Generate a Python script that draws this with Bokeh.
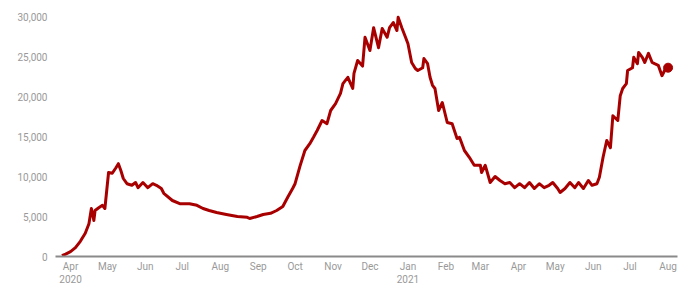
import pandas as pd
from bokeh.plotting import figure
from bokeh.models import Range1d, FixedTicker, NumeralTickFormatter
from bokeh.embed import file_html
from bokeh.resources import INLINE

dates = [
    "2020-03-25", "2020-03-28", "2020-04-01", "2020-04-05", "2020-04-09", "2020-04-13", "2020-04-16",
    "2020-04-18", "2020-04-20", "2020-04-21", "2020-04-24", "2020-04-27", "2020-04-29",
    "2020-05-02", "2020-05-05", "2020-05-08", "2020-05-10", "2020-05-12", "2020-05-14",
    "2020-05-17", "2020-05-21", "2020-05-24", "2020-05-26", "2020-05-30", "2020-06-03",
    "2020-06-07", "2020-06-10", "2020-06-14", "2020-06-16", "2020-06-23", "2020-06-29",
    "2020-07-07", "2020-07-13", "2020-07-18", "2020-07-23", "2020-07-29", "2020-08-06",
    "2020-08-15", "2020-08-23", "2020-08-25", "2020-08-31", "2020-09-05", "2020-09-11",
    "2020-09-16", "2020-09-21", "2020-09-25", "2020-09-29", "2020-10-01", "2020-10-05",
    "2020-10-09", "2020-10-13", "2020-10-16", "2020-10-19", "2020-10-23", "2020-10-27",
    "2020-10-30", "2020-11-03", "2020-11-07", "2020-11-09", "2020-11-13", "2020-11-17",
    "2020-11-18", "2020-11-21", "2020-11-25", "2020-11-27", "2020-12-01", "2020-12-04",
    "2020-12-08", "2020-12-11", "2020-12-15", "2020-12-17", "2020-12-20", "2020-12-23",
    "2020-12-24", "2020-12-27", "2020-12-30", "2021-01-01", "2021-01-04", "2021-01-07",
    "2021-01-09", "2021-01-13", "2021-01-14", "2021-01-17", "2021-01-19", "2021-01-21",
    "2021-01-23", "2021-01-26", "2021-01-29", "2021-02-02", "2021-02-06", "2021-02-10",
    "2021-02-12", "2021-02-16", "2021-02-20", "2021-02-24", "2021-03-01", "2021-03-02",
    "2021-03-05", "2021-03-09", "2021-03-13", "2021-03-17", "2021-03-21", "2021-03-25",
    "2021-03-29", "2021-04-02", "2021-04-06", "2021-04-10", "2021-04-14", "2021-04-18",
    "2021-04-22", "2021-04-26", "2021-04-29", "2021-05-03", "2021-05-05", "2021-05-09",
    "2021-05-13", "2021-05-17", "2021-05-20", "2021-05-24", "2021-05-28", "2021-05-31",
    "2021-06-04", "2021-06-06", "2021-06-09", "2021-06-12", "2021-06-15", "2021-06-17",
    "2021-06-21", "2021-06-23", "2021-06-25", "2021-06-28", "2021-06-29", "2021-07-03",
    "2021-07-04", "2021-07-07", "2021-07-08", "2021-07-11", "2021-07-13", "2021-07-16",
    "2021-07-19", "2021-07-21", "2021-07-24", "2021-07-27", "2021-07-30", "2021-08-01",
]
values = [
    100, 300, 600, 1100, 1900, 2900, 4100,
    6000, 4500, 5750, 6100, 6400, 6000,
    10500, 10400, 11100, 11600, 10750, 9750,
    9100, 8900, 9250, 8600, 9250, 8600,
    9100, 8900, 8500, 7900, 7000, 6600,
    6600, 6400, 6000, 5750, 5500, 5250,
    5000, 4900, 4750, 5000, 5250, 5400,
    5750, 6250, 7400, 8500, 9100, 11300,
    13250, 14100, 14900, 15750, 17000, 16600,
    18250, 19100, 20400, 21600, 22400, 21000,
    22900, 24500, 23800, 27400, 25750, 28600,
    26100, 28500, 27400, 28600, 29250, 28250,
    29900, 28600, 27400, 26600, 24250, 23500,
    23250, 23600, 24750, 24100, 22400, 21400,
    21000, 18250, 19250, 16750, 16600, 14750,
    14900, 13250, 12400, 11400, 11400, 10500,
    11400, 9250, 10000, 9500, 9100, 9250,
    8600, 9100, 8600, 9250, 8500, 9100,
    8600, 8900, 9250, 8500, 8000, 8500,
    9250, 8600, 9250, 8500, 9500, 8900,
    9100, 9900, 12400, 14500, 13600, 17600,
    17000, 20100, 21000, 21600, 23250, 23600,
    24900, 24100, 25500, 24900, 24250, 25400,
    24250, 24100, 23900, 22600, 23500, 23600,
]

tick_dates = ["2020-04-01", "2020-05-01", "2020-06-01", "2020-07-01", "2020-08-01",
              "2020-09-01", "2020-10-01", "2020-11-01", "2020-12-01", "2021-01-01",
              "2021-02-01", "2021-03-01", "2021-04-01", "2021-05-01", "2021-06-01",
              "2021-07-01", "2021-08-01"]
tick_labels = ["Apr\n2020", "May", "Jun", "Jul", "Aug", "Sep", "Oct", "Nov", "Dec",
               "Jan\n2021", "Feb", "Mar", "Apr", "May", "Jun", "Jul", "Aug"]
y_ticks = [0, 5000, 10000, 15000, 20000, 25000, 30000]

x = pd.to_datetime(dates)
tick_ms = [int(pd.Timestamp(d).value // 10**6) for d in tick_dates]

x_start = pd.Timestamp("2020-03-19 18:00")
x_end = pd.Timestamp("2021-08-08 16:00")

p = figure(width=700, height=294, x_axis_type="datetime",
           output_backend="svg", toolbar_location=None,
           x_range=Range1d(x_start, x_end), y_range=Range1d(0, 30750),
           min_border_left=55, min_border_right=23, min_border_top=10, min_border_bottom=38)
p.outline_line_color = None
p.xgrid.visible = False
p.ygrid.visible = False
p.background_fill_color = "white"
p.border_fill_color = "white"

p.line(x, values, line_color="#a80000", line_width=3, line_join="round")
p.scatter([x[-1]], [values[-1]], size=9, fill_color="#a80000", line_color="#a80000")

xa = p.xaxis[0]
xa.ticker = FixedTicker(ticks=tick_ms)
xa.major_label_overrides = {t: l for t, l in zip(tick_ms, tick_labels)}
xa.axis_line_color = "#8a8a8a"
xa.axis_line_width = 2
xa.major_tick_line_color = None
xa.minor_tick_line_color = None
xa.major_label_standoff = -2
xa.major_label_text_font = "Roboto"
xa.major_label_text_font_size = "10px"
xa.major_label_text_color = "#999999"

ya = p.yaxis[0]
ya.ticker = FixedTicker(ticks=y_ticks)
ya.formatter = NumeralTickFormatter(format="0,0")
ya.axis_line_color = None
ya.major_tick_line_color = None
ya.minor_tick_line_color = None
ya.major_label_standoff = 2
ya.major_label_text_font = "Roboto"
ya.major_label_text_font_size = "10px"
ya.major_label_text_color = "#999999"

open("out.html", "w").write(file_html(p, INLINE))
